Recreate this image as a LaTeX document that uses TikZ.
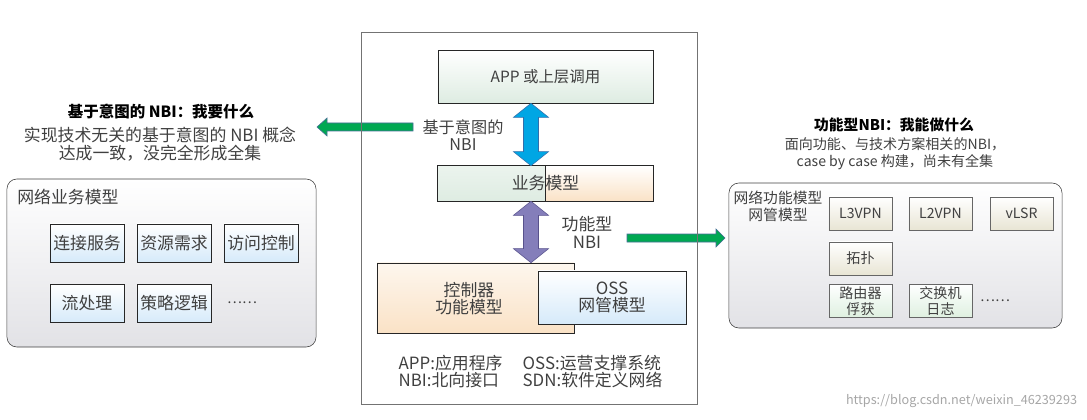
\documentclass[tikz,border=0pt]{standalone}
\usepackage{fontspec}
\setmainfont{Noto Sans CJK SC}
\usetikzlibrary{calc}
\definecolor{txtgray}{RGB}{64,64,64}
\definecolor{mint}{RGB}{222,236,226}
\definecolor{peach}{RGB}{250,226,198}
\definecolor{skyblue}{RGB}{214,234,250}
\definecolor{beige}{RGB}{232,229,212}
\definecolor{paleg}{RGB}{222,240,224}
\definecolor{panelgray}{RGB}{226,226,230}
\definecolor{nbigreen}{RGB}{0,168,82}
\definecolor{greenrim}{RGB}{72,110,150}
\definecolor{nbiblue}{RGB}{0,166,228}
\definecolor{bluerim}{RGB}{50,110,170}
\definecolor{nbipurple}{RGB}{132,126,186}
\definecolor{purplerim}{RGB}{88,82,140}
% vertical double block arrow, top point to bottom point
\def\dblarrow[#1](#2)(#3){\draw[#1] (#2) -- ($(#2)+(17.5,14)$) -- ($(#2)+(7.5,14)$) -- ($(#3)+(7.5,-14)$) -- ($(#3)+(17.5,-14)$) -- (#3) -- ($(#3)+(-17.5,-14)$) -- ($(#3)+(-7.5,-14)$) -- ($(#2)+(-7.5,14)$) -- ($(#2)+(-17.5,14)$) -- cycle;}
% horizontal block arrow, tail to tip, head base offset from tip
\def\harrow[#1](#2)(#3)(#4){\draw[#1] ($(#2)+(0,-4)$) -- ($(#3)+(#4,-4)$) -- ($(#3)+(#4,-9)$) -- (#3) -- ($(#3)+(#4,9)$) -- ($(#3)+(#4,4)$) -- ($(#2)+(0,4)$) -- cycle;}

\begin{document}
\begin{tikzpicture}[x=0.025cm, y=-0.025cm,
    txt/.style={text=txtgray, inner sep=1pt, align=center},
    panel/.style={draw=black!75, rounded corners=0.25cm, top color=white, bottom color=panelgray},
    svcbox/.style={draw=black!85, minimum width=1.85cm, minimum height=0.95cm, inner sep=0pt, top color=white, bottom color=skyblue, text=txtgray, font=\fontsize{12}{14}\selectfont},
    fnbox/.style={draw=black!60, minimum width=1.575cm, minimum height=0.825cm, inner sep=0pt, top color=white, bottom color=beige, text=txtgray, font=\fontsize{10}{11.5}\selectfont, align=center}]

    \useasboundingbox (0,0) rectangle (1087,420);

    %%%%% LEFT: intent NBI %%%%%
    \node[font=\bfseries\fontsize{11}{13}\selectfont] (intentTitle) at (161,112) {基于意图的 NBI：我要什么};
    \node[txt, font=\fontsize{12}{13}\selectfont] (intentSub) at (160,144) {实现技术无关的基于意图的 NBI 概念\\达成一致，没完全形成全集};

    \node[panel, minimum width=7.725cm, minimum height=4.2cm] (svcPanel) at (161.5,263) {};
    \node[txt, anchor=west, font=\fontsize{12}{14}\selectfont] (svcHead) at ($(svcPanel.north west)+(9,18)$) {网络业务模型};

    \node[svcbox] (svcConn) at (87,243) {连接服务};
    \node[svcbox] (svcRes) at (174,243) {资源需求};
    \node[svcbox] (svcAcc) at (261,243) {访问控制};
    \node[svcbox] (svcFlow) at (87,303.5) {流处理};
    \node[svcbox] (svcPol) at (174,303.5) {策略逻辑};
    \node[txt] (svcDots) at (242,303) {……};

    %%%%% CENTER %%%%%
    \node[minimum width=8.375cm, minimum height=9.275cm] (core) at (529.5,218.5) {};

    \node[draw=black!85, minimum width=5.375cm, minimum height=1.325cm, top color=white, bottom color=mint, text=txtgray, font=\fontsize{11}{13}\selectfont] (app) at (545.5,76.5) {APP 或上层调用};

    \node[minimum width=5.375cm, minimum height=0.875cm] (biz) at (545.5,183.5) {};
    \shade[top color=mint!60, bottom color=mint] (biz.north west) rectangle (biz.south);
    \shade[top color=white, bottom color=peach] (biz.north) rectangle (biz.south east);
    \draw[black!85] (biz.north west) rectangle (biz.south east);
    \draw[black!85] (biz.north) -- (biz.south);
    \node[txt, font=\fontsize{12}{14}\selectfont] (bizLabel) at (biz.center) {业务模型};

    \node[draw=black!85, minimum width=4.925cm, minimum height=1.75cm, top color=peach!30, bottom color=peach] (ctrl) at (475.5,298) {};
    \node[txt, font=\fontsize{12}{12.5}\selectfont] (ctrlLabel) at (469,298.5) {控制器\\功能模型};
    \node[draw=black!85, minimum width=3.7cm, minimum height=1.325cm, top color=white, bottom color=skyblue, txt, font=\fontsize{12}{12.5}\selectfont] (oss) at (612,297.5) {OSS\\网管模型};

    \coordinate (intentTop) at ($(app.south)+(-14.5,0)$);
    \coordinate (intentBot) at ($(biz.north)+(-14.5,0)$);
    \dblarrow[fill=nbiblue, draw=bluerim](intentTop)(intentBot);
    \coordinate (funcTop) at ($(biz.south)+(-14.5,0)$);
    \coordinate (funcBot) at (funcTop |- ctrl.north);
    \dblarrow[fill=nbipurple, draw=purplerim](funcTop)(funcBot);

    \node[txt, font=\fontsize{11.5}{12}\selectfont] (intentLbl) at (463,135) {基于意图的\\NBI};
    \node[txt, font=\fontsize{12}{12.5}\selectfont] (funcLbl) at (587,232.5) {功能型\\NBI};

    \coordinate (intentTail) at (413,127);
    \coordinate (intentTip) at (317,127);
    \harrow[fill=nbigreen, draw=greenrim](intentTail)(intentTip)(10);
    \coordinate (funcTail) at (627,238);
    \coordinate (funcTip) at (725,238);
    \harrow[fill=nbigreen, draw=greenrim](funcTail)(funcTip)(-9);

    \node[txt, anchor=west, align=left, font=\fontsize{12}{12.5}\selectfont] (legendA) at (397,371.5) {APP:应用程序\\NBI:北向接口};
    \node[txt, anchor=west, align=left, font=\fontsize{12}{12.5}\selectfont] (legendB) at (521,371.5) {OSS:运营支撑系统\\SDN:软件定义网络};

    \draw[black!55] (core.north west) rectangle (core.south east);

    %%%%% RIGHT: functional NBI %%%%%
    \node[font=\bfseries\fontsize{10.5}{12}\selectfont] (funcTitle) at (894,125) {功能型NBI：我能做什么};
    \node[txt, font=\fontsize{10}{12}\selectfont] (funcSub) at (895,153.5) {面向功能、与技术方案相关的NBI，\\case by case 构建，尚未有全集};

    \node[panel, minimum width=8.325cm, minimum height=3.625cm] (fnPanel) at (895.5,255.5) {};
    \node[txt, font=\fontsize{10.5}{12}\selectfont] (fnHead) at (778,206.5) {网络功能模型\\网管模型};

    \node[fnbox] (fnL3) at (860.5,213.5) {L3VPN};
    \node[fnbox] (fnL2) at (940.5,213.5) {L2VPN};
    \node[fnbox] (fnLsr) at (1021.5,213.5) {vLSR};
    \node[fnbox] (fnTopo) at (860.5,258.5) {拓扑};
    \node[fnbox, bottom color=paleg] (fnRouter) at (860.5,301) {路由器\\俘获};
    \node[fnbox, bottom color=paleg] (fnSwitch) at (940.5,301) {交换机\\日志};
    \node[txt] (fnDots) at (995,301) {……};

    \node[anchor=east, text=black!35, font=\fontsize{9}{10}\selectfont] (mark) at (1082,401) {https://blog.csdn.net/weixin\_46239293};
\end{tikzpicture}
\end{document}
